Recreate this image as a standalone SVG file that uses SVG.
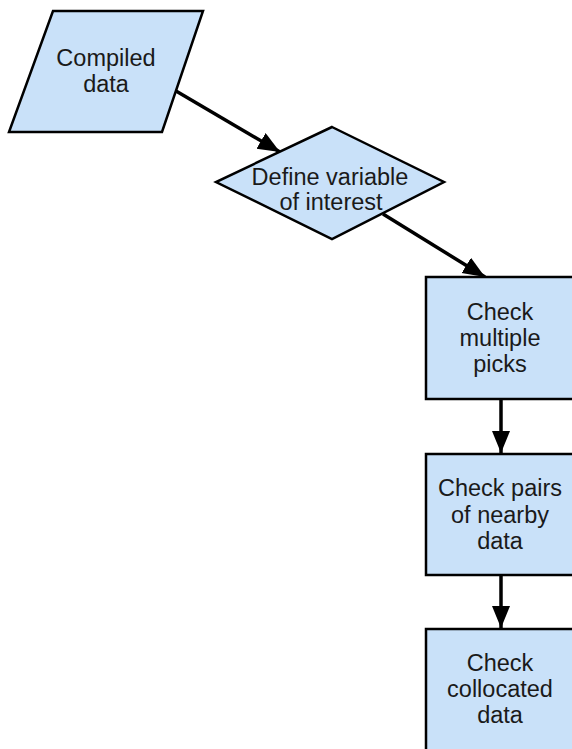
<svg xmlns="http://www.w3.org/2000/svg" width="572" height="749" viewBox="0 0 572 749">
<style>
.n{fill:#c9e1f9;stroke:#000;stroke-width:2.5;stroke-linejoin:miter}
.t{font-family:"Liberation Sans",Arial,sans-serif;font-size:23.5px;fill:#1a1a1a;text-anchor:middle}
.c{stroke:#000;stroke-width:3.5;fill:none}
</style>
<defs>
<marker id="ah" markerUnits="userSpaceOnUse" markerWidth="24" markerHeight="20" refX="22" refY="9" orient="auto">
<path d="M0,0 L22,9 L0,18 Z" fill="#000"/>
</marker>
</defs>
<rect width="572" height="749" fill="#fff"/>
<g id="connectors">
<line class="c" x1="176" y1="91" x2="280" y2="152" marker-end="url(#ah)"/>
<line class="c" x1="383" y1="214" x2="485" y2="277" marker-end="url(#ah)"/>
<line class="c" x1="501" y1="399" x2="501" y2="453" marker-end="url(#ah)"/>
<line class="c" x1="501" y1="575" x2="501" y2="628" marker-end="url(#ah)"/>
</g>
<g id="compiled">
<polygon class="n" points="53,11 203,11 162,132 9,132"/>
<text class="t" x="106" y="66">Compiled</text>
<text class="t" x="106" y="92">data</text>
</g>
<g id="define">
<polygon class="n" points="332,127 444,182 332,239 216,182"/>
<text class="t" x="330" y="185">Define variable</text>
<text class="t" x="331" y="210">of interest</text>
</g>
<g id="multiple">
<rect class="n" x="426" y="277" width="150" height="122"/>
<text class="t" x="500" y="320">Check</text>
<text class="t" x="500" y="346">multiple</text>
<text class="t" x="500" y="372">picks</text>
</g>
<g id="pairs">
<rect class="n" x="426" y="454" width="150" height="121"/>
<text class="t" x="500" y="496">Check pairs</text>
<text class="t" x="500" y="523">of nearby</text>
<text class="t" x="500" y="549">data</text>
</g>
<g id="collocated">
<rect class="n" x="426" y="629" width="150" height="130"/>
<text class="t" x="500" y="671">Check</text>
<text class="t" x="500" y="697">collocated</text>
<text class="t" x="500" y="723">data</text>
</g>
</svg>
